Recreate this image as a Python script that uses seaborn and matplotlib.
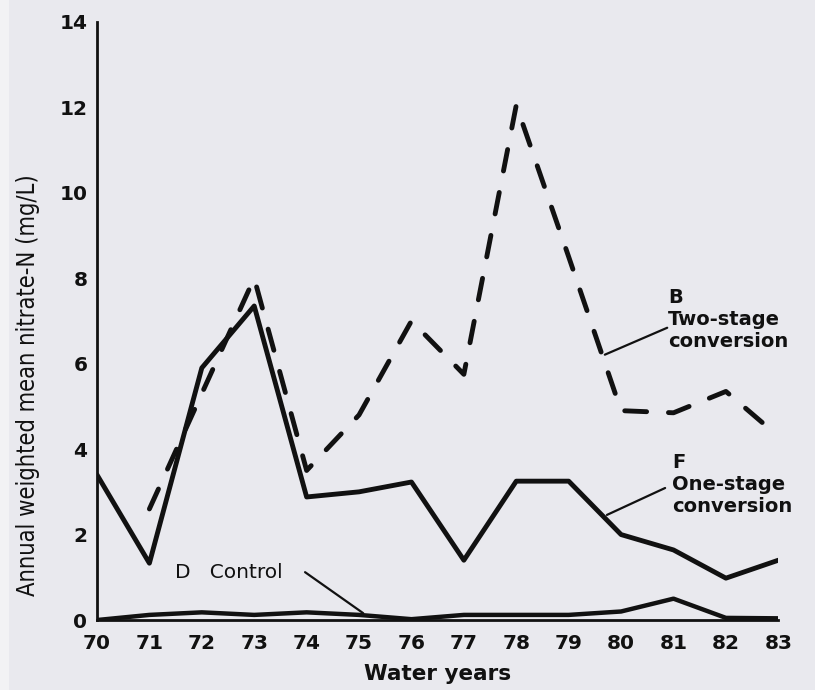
import matplotlib
matplotlib.use("Agg")
import matplotlib.pyplot as plt
import seaborn as sns
import pandas as pd

# Water years (19xx) and annual weighted mean nitrate-N, mg/L
years = [70, 71, 72, 73, 74, 75, 76, 77, 78, 79, 80, 81, 82, 83]
one_stage_F = [3.4, 1.33, 5.9, 7.35, 2.88, 3.0, 3.23, 1.4, 3.25, 3.25, 2.0, 1.64, 0.98, 1.4]
two_stage_years = [71, 72, 73, 74, 75, 76, 77, 78, 79, 80, 81, 82, 83]
two_stage_B = [2.6, 5.3, 8.0, 3.5, 4.8, 7.0, 5.75, 12.05, 8.5, 4.9, 4.85, 5.35, 4.3]
control_D = [0.0, 0.12, 0.18, 0.12, 0.18, 0.12, 0.02, 0.12, 0.12, 0.12, 0.2, 0.5, 0.05, 0.04]

y_ticks = [0, 2, 4, 6, 8, 10, 12, 14]

bg = "#e9e9ee"
ink = "#111111"
sns.set_theme(style="white")
plt.rcParams["font.family"] = ["DejaVu Sans"]

fig = plt.figure(figsize=(8.15, 6.9), dpi=100, facecolor=bg)
# pale strip along the left page edge
fig.patches.append(plt.Rectangle((0, 0), 0.011, 1, transform=fig.transFigure,
                                 facecolor="#f2f2f4", edgecolor="none", zorder=0))
ax = fig.add_axes([0.119, 0.1014, 0.836, 0.867])
ax.set_facecolor(bg)

df_f = pd.DataFrame({"year": years, "nitrate": one_stage_F})
df_b = pd.DataFrame({"year": two_stage_years, "nitrate": two_stage_B})
df_d = pd.DataFrame({"year": years, "nitrate": control_D})

sns.lineplot(data=df_d, x="year", y="nitrate", ax=ax, color=ink, lw=3.2)
sns.lineplot(data=df_f, x="year", y="nitrate", ax=ax, color=ink, lw=3.5)
sns.lineplot(data=df_b, x="year", y="nitrate", ax=ax, color=ink, lw=3.5)
ax.lines[-1].set_dashes((4.5, 4.5))
ax.lines[-1].set_dash_capstyle("round")

ax.set_xlim(70, 83)
ax.set_ylim(0, 14)
ax.set_xticks(years)
ax.set_xticklabels([str(y) for y in years])
ax.set_yticks(y_ticks)
ax.set_yticklabels([str(t) for t in y_ticks])
ax.tick_params(axis="both", length=0, labelsize=14.5, colors=ink)
ax.tick_params(axis="x", pad=10)
ax.tick_params(axis="y", pad=7)
for lab in ax.get_xticklabels() + ax.get_yticklabels():
    lab.set_fontweight("bold")

for side in ["top", "right"]:
    ax.spines[side].set_visible(False)
for side in ["left", "bottom"]:
    ax.spines[side].set_color(ink)
    ax.spines[side].set_linewidth(2.0)
ax.grid(False)

ax.set_xlabel("Water years", fontsize=15.5, fontweight="bold", color=ink)
ax.xaxis.set_label_coords(0.5, -0.074)
ax.set_ylabel("Annual weighted mean nitrate-N (mg/L)", fontsize=17, color=ink,
              family="DejaVu Sans", fontstretch="condensed")
ax.yaxis.set_label_coords(-0.083, 0.393)

# Series annotations with leader lines
label_kw = dict(fontsize=14, fontweight="bold", color=ink, ha="left", va="top",
                linespacing=1.2)
ax.text(80.9, 7.76, "B\nTwo-stage\nconversion", **label_kw)
ax.plot([79.69, 80.88], [6.21, 6.84], color=ink, lw=1.6)
ax.text(80.97, 3.9, "F\nOne-stage\nconversion", **label_kw)
ax.plot([79.73, 80.84], [2.46, 3.09], color=ink, lw=1.6)
ax.text(71.48, 1.12, "D   Control", fontsize=14.5, color=ink, ha="left", va="center")
ax.plot([73.97, 75.08], [1.12, 0.16], color=ink, lw=1.6)

fig.savefig("out.png", dpi=100, facecolor=bg)
